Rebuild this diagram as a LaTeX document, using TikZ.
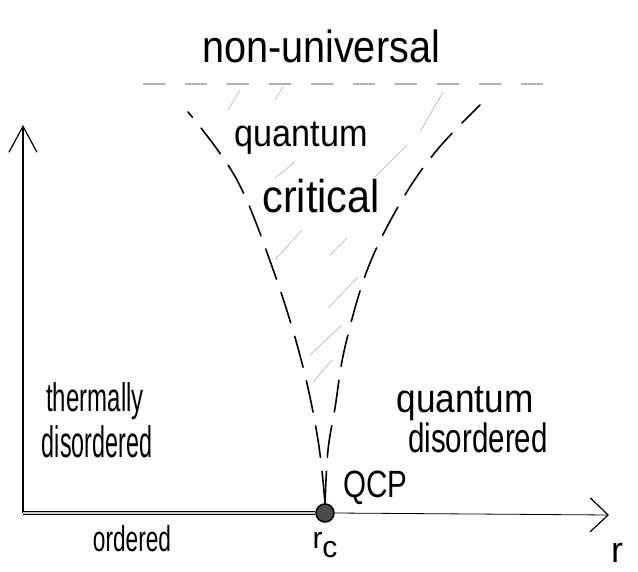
\documentclass[tikz,border=0pt]{standalone}
\usepackage{graphicx}
\usepackage{fontspec}
\setmainfont{Liberation Sans}
\usetikzlibrary{arrows.meta}
\newcommand{\handtext}[2]{\scalebox{#1}[1]{#2}}

\begin{document}
\begin{tikzpicture}[x=1pt,y=-1pt,
  lbl/.style={inner sep=0pt,anchor=base,font=\fontsize{#1}{#1}\selectfont},
  bnd/.style={line width=1.6pt,dash pattern=on 32pt off 14pt,line cap=round},
  hatch/.style={gray!60,line width=0.6pt},
  axis/.style={line width=1.2pt}]
\useasboundingbox (0,0) rectangle (638,572);
% axes and the ordered line
\node[circle,draw,line width=1.5pt,fill=black!70,minimum size=18pt,inner sep=0pt] (qcp) at (325,513) {};
\coordinate (origin) at (23,513);
\coordinate (ytop) at (23,125);
\coordinate (xend) at (609,515);
\draw[axis,-{Straight Barb[length=26pt,width=28pt]}] (origin) -- (ytop);
\draw[line width=1.2pt,double=gray!40,double distance=2.4pt] (origin) -- (qcp.west);
\draw[line width=0.8pt,-{Straight Barb[length=18pt,width=34pt,line width=1.2pt]}] (qcp.east) -- (xend);
% crossover lines
\draw[bnd] plot[smooth,tension=0.6] coordinates {(qcp.north) (318,440) (302,363) (275,275) (237,180) (188,112)};
\draw[bnd] plot[smooth,tension=0.6] coordinates {(qcp.north) (328,450) (335,408) (345,347) (368,268) (402,200) (437,150) (480,105)};
\draw[gray!60,line width=1.8pt,dash pattern=on 22pt off 20pt] (143,84) -- (547,84);
% hatching
\foreach \xa/\ya/\xb/\yb in %
{228/110/240/90, 275/100/283/87, 420/132/443/92, 275/178/295/162,
 375/177/407/145, 275/260/302/230, 330/255/347/238, 328/308/358/277,
 310/355/342/325, 313/382/332/360} {
   \draw[hatch] (\xa,\ya) -- (\xb,\yb);
}
% labels
\node[lbl=45pt] (nonuni) at (321,63) {\handtext{0.88}{non-universal}};
\node[lbl=38pt] (quant) at (301,147) {\handtext{0.9}{quantum}};
\node[lbl=46pt] (crit) at (321,213) {\handtext{0.9}{critical}};
\node[lbl=40pt] (therm) at (95,412) {\handtext{0.6}{thermally}};
\node[lbl=44pt] (disl) at (97,457) {\handtext{0.53}{disordered}};
\node[lbl=40pt] (quantr) at (465,413) {\handtext{0.88}{quantum}};
\node[lbl=41pt] (disr) at (478,452) {\handtext{0.72}{disordered}};
\node[lbl=38pt,anchor=base west] (qcplbl) at (343,497) {\handtext{0.78}{QCP}};
\node[lbl=36pt] (ord) at (132,551) {\handtext{0.63}{ordered}};
\node[lbl=30pt] (rc) at (325,548) {r\raisebox{-9pt}{c}};
\node[lbl=36pt] (r) at (617,562) {r};
\end{tikzpicture}
\end{document}
